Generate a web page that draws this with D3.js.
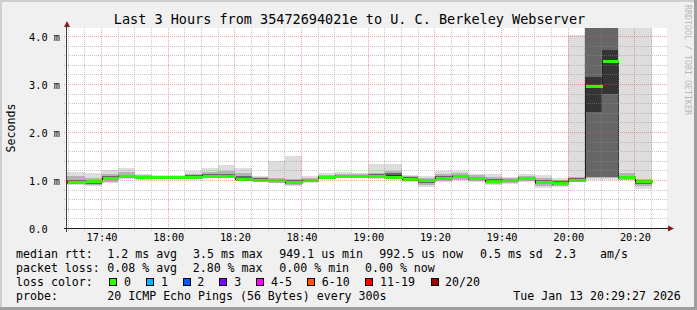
<!DOCTYPE html>
<html><head><meta charset="utf-8">
<script src="https://cdn.jsdelivr.net/npm/d3@7"></script>
<style>
body{margin:0;background:#f0f0f0;}
svg{display:block;}
text{font-family:"DejaVu Sans Mono",monospace;fill:#000;}
</style>
</head><body>
<svg id="chart" width="697" height="310"></svg>
<script>
// ---------- data ----------
const binStarts = ["17:30","17:35","17:40","17:45","17:50","17:55","18:00","18:05","18:10","18:15",
  "18:20","18:25","18:30","18:35","18:40","18:45","18:50","18:55","19:00","19:05",
  "19:10","19:15","19:20","19:25","19:30","19:35","19:40","19:45","19:50","19:55",
  "20:00","20:05","20:10","20:15","20:20"];
// ping round-trip distribution per 5-minute bin (ms)
const pingMin = [0.90,0.88,0.94,1.04,1.01,1.04,1.05,1.06,1.05,1.06,0.98,0.96,0.94,0.89,0.95,1.03,1.05,1.05,1.03,1.03,0.97,0.86,0.97,1.00,0.96,0.90,0.92,0.96,0.85,0.86,0.97,1.02,1.02,1.00,0.83];
const ping10 = [0.92,0.90,0.97,1.06,1.04,1.05,1.06,1.06,1.06,1.07,1.00,0.98,0.95,0.91,0.96,1.04,1.06,1.06,1.05,1.04,0.99,0.90,0.99,1.02,0.98,0.93,0.94,0.98,0.88,0.88,0.99,1.06,1.05,1.02,0.88];
const ping25 = [0.93,0.92,1.00,1.07,1.06,1.06,1.07,1.07,1.07,1.08,1.02,1.00,0.97,0.93,0.98,1.05,1.07,1.07,1.07,1.05,1.01,0.94,1.01,1.05,1.01,0.96,0.96,1.00,0.92,0.91,1.00,1.08,1.07,1.04,0.92];
const ping40 = [0.95,0.95,1.03,1.08,1.07,1.07,1.07,1.08,1.09,1.09,1.03,1.01,0.99,0.96,0.99,1.06,1.08,1.08,1.08,1.06,1.03,0.98,1.04,1.08,1.04,0.98,0.99,1.03,0.95,0.93,1.01,2.42,2.81,1.06,0.96];
const median = [0.96,0.98,1.05,1.09,1.08,1.08,1.08,1.08,1.10,1.10,1.04,1.02,1.00,0.97,1.00,1.07,1.09,1.09,1.09,1.07,1.04,1.00,1.05,1.09,1.05,0.99,1.00,1.05,0.96,0.95,1.02,2.96,3.48,1.07,0.99];
const ping60 = [0.98,0.99,1.07,1.10,1.09,1.09,1.08,1.09,1.11,1.11,1.06,1.03,1.01,0.98,1.01,1.08,1.10,1.10,1.11,1.11,1.05,1.01,1.07,1.10,1.06,1.01,1.01,1.06,0.98,0.96,1.03,3.15,3.71,1.08,1.00];
const ping75 = [1.02,1.01,1.10,1.12,1.10,1.09,1.09,1.11,1.13,1.14,1.10,1.05,1.03,1.00,1.03,1.10,1.11,1.11,1.13,1.15,1.07,1.03,1.10,1.12,1.08,1.04,1.03,1.07,1.01,0.98,1.05,4.30,4.30,1.10,1.01];
const ping90 = [1.09,1.06,1.14,1.17,1.11,1.10,1.10,1.14,1.17,1.20,1.16,1.07,1.06,1.03,1.06,1.12,1.13,1.13,1.16,1.19,1.09,1.06,1.14,1.15,1.11,1.08,1.05,1.10,1.06,1.01,1.08,4.40,4.40,1.16,1.04];
const pingMax = [1.18,1.16,1.21,1.26,1.13,1.12,1.11,1.20,1.25,1.32,1.27,1.09,1.40,1.50,1.09,1.16,1.17,1.16,1.34,1.34,1.11,1.10,1.20,1.20,1.14,1.13,1.08,1.13,1.11,1.05,4.04,4.50,4.50,4.50,4.50];

const yTickValues = [0,1,2,3,4];
const yTickLabels = ["0.0","1.0 m","2.0 m","3.0 m","4.0 m"];
const xTickLabels = ["17:40","18:00","18:20","18:40","19:00","19:20","19:40","20:00","20:20"];

const titleText = "Last 3 Hours from 35472694021e to U. C. Berkeley Webserver";
const rttLegend = ["median rtt:","1.2 ms avg","3.5 ms max","949.1 us min","992.5 us now","0.5 ms sd","2.3","am/s"];
const lossLegend = ["packet loss:","0.08 % avg","2.80 % max","0.00 % min","0.00 % now"];
const lossLabels = ["0","1","2","3","4-5","6-10","11-19","20/20"];
const lossColors = ["#26ff00","#00b8ff","#0059ff","#7e00ff","#ff00ff","#ff5500","#ff0000","#a10000"];
const probeText = "20 ICMP Echo Pings (56 Bytes) every 300s";
const stampText = "Tue Jan 13 20:29:27 2026";

// ---------- layout ----------
const W = 697, H = 310;
const L = 67, R = 667, T = 28, B = 228.5;
const day = "2026-01-13 ";
const parse = d3.timeParse("%Y-%m-%d %H:%M:%S");
const pt = s => parse(day + s + ":00");

const svg = d3.select("#chart");
const x = d3.scaleTime().domain([parse(day+"17:29:38"), parse(day+"20:29:38")]).range([L, R]);
const y = d3.scaleLinear().domain([0, 4.177]).range([B, T]);

// background and 3D border
svg.append("rect").attr("width",W).attr("height",H).attr("fill","#f0f0f0");
svg.append("rect").attr("x",0).attr("y",0).attr("width",W).attr("height",2).attr("fill","#cfcfcf");
svg.append("rect").attr("x",0).attr("y",0).attr("width",2).attr("height",H).attr("fill","#cfcfcf");
svg.append("rect").attr("x",0).attr("y",H-3).attr("width",W).attr("height",3).attr("fill","#9e9e9e");
svg.append("rect").attr("x",W-3).attr("y",0).attr("width",3).attr("height",H).attr("fill","#9e9e9e");

// canvas
svg.append("rect").attr("x",L).attr("y",T).attr("width",R-L).attr("height",B-T).attr("fill","#ffffff");

svg.append("defs").append("clipPath").attr("id","plotclip")
  .append("rect").attr("x",L).attr("y",T).attr("width",R-L).attr("height",B-T+1);

const plot = svg.append("g").attr("clip-path","url(#plotclip)");

const bins = binStarts.map((s,i) => {
  const t0 = pt(s);
  const t1 = new Date(t0.getTime() + 5*60*1000);
  return {i, x0: i === 0 ? L : Math.round(x(t0)), x1: Math.round(x(t1))};
});

// smoke layers (outer to inner)
const layers = [
  {lo: pingMin, hi: pingMax, color: "#dddddd"},
  {lo: ping10, hi: ping90, color: "#b4b4b4"},
  {lo: ping25, hi: ping75, color: "#666666"},
  {lo: ping40, hi: ping60, color: "#343434"}
];
layers.forEach(layer => {
  plot.append("g").selectAll("rect").data(bins).join("rect")
    .attr("x", d => d.x0)
    .attr("width", d => d.x1 - d.x0)
    .attr("y", d => Math.round(y(layer.hi[d.i])))
    .attr("height", d => Math.max(1, Math.round(y(layer.lo[d.i])) - Math.round(y(layer.hi[d.i]))))
    .attr("fill", layer.color)
    .attr("shape-rendering","crispEdges");
});

// grid
const grid = svg.append("g").attr("shape-rendering","crispEdges");
const minorY = d3.range(1, 21).map(k => k*0.2).filter(v => Math.abs(v - Math.round(v)) > 1e-6);
const majorY = yTickValues.slice(1);
const t5 = d3.timeMinute.every(5).range(pt("17:30"), pt("20:29"));
const minorX = t5.filter(t => t.getMinutes() % 20 !== 0);
const majorX = t5.filter(t => t.getMinutes() % 20 === 0);
const gridMinor = "rgba(143,143,143,0.5)";
const gridMajor = "rgba(222,80,80,0.5)";
grid.selectAll(".hmin").data(minorY).join("line")
  .attr("x1", L-3).attr("x2", R).attr("y1", d => Math.floor(y(d))+0.5).attr("y2", d => Math.floor(y(d))+0.5)
  .attr("stroke", gridMinor).attr("stroke-dasharray","1,1");
grid.selectAll(".vmin").data(minorX).join("line")
  .attr("y1", T).attr("y2", B+2.5).attr("x1", d => Math.floor(x(d))+0.5).attr("x2", d => Math.floor(x(d))+0.5)
  .attr("stroke", gridMinor).attr("stroke-dasharray","1,1");
grid.selectAll(".hmaj").data(majorY).join("line")
  .attr("x1", L-3).attr("x2", R).attr("y1", d => Math.floor(y(d))+0.5).attr("y2", d => Math.floor(y(d))+0.5)
  .attr("stroke", gridMajor).attr("stroke-dasharray","1,1");
grid.selectAll(".vmaj").data(majorX).join("line")
  .attr("y1", T).attr("y2", B+3).attr("x1", d => Math.floor(x(d))+0.5).attr("x2", d => Math.floor(x(d))+0.5)
  .attr("stroke", gridMajor).attr("stroke-dasharray","1,1");

// median: dark step line + green loss-coloured bars
const stepPts = bins.map(d => [d.x0, y(median[d.i])]);
stepPts.push([bins[bins.length-1].x1, y(median[median.length-1])]);
plot.append("path")
  .attr("d", d3.line().curve(d3.curveStepAfter)(stepPts.map(p => [p[0]+0.5, Math.round(p[1])+0.5])))
  .attr("fill","none").attr("stroke","#202020").attr("stroke-width",1)
  .attr("shape-rendering","crispEdges");
plot.append("g").selectAll("rect").data(bins).join("rect")
  .attr("x", d => d.x0 + 1)
  .attr("width", d => d.x1 - d.x0)
  .attr("y", d => Math.round(y(median[d.i])) - 1)
  .attr("height", 3)
  .attr("fill", lossColors[0])
  .attr("shape-rendering","crispEdges");

// axes via d3
const yAxis = d3.axisLeft(y).tickValues(yTickValues).tickSize(0)
  .tickFormat((d,i) => yTickLabels[i]);
const gy = svg.append("g").attr("transform", `translate(${L},0)`).call(yAxis);
gy.select(".domain").remove();
gy.selectAll("text").attr("x", 29 - L).attr("text-anchor","start")
  .attr("dy","0.35em").style("font-family","DejaVu Sans Mono").style("font-size","10.3px").attr("fill","#000");

const xAxis = d3.axisBottom(x).tickValues(majorX).tickSize(0)
  .tickFormat((d,i) => xTickLabels[i]);
const gx = svg.append("g").attr("transform", `translate(0,${B})`).call(xAxis);
gx.select(".domain").remove();
gx.selectAll("text").attr("y", 12.6).attr("dy", 0).attr("dx", 0)
  .style("font-family","DejaVu Sans Mono").style("font-size","10.3px").attr("fill","#000");

// axis lines and arrows
svg.append("line").attr("x1", 66.5).attr("x2", 66.5).attr("y1", 27).attr("y2", B+3)
  .attr("stroke","#404040").attr("shape-rendering","crispEdges");
svg.append("line").attr("x1", 64).attr("x2", 669).attr("y1", B).attr("y2", B)
  .attr("stroke","#1f1f1f").attr("shape-rendering","crispEdges");
svg.append("path").attr("d","M64,27 L70,27 L67,21 Z").attr("fill","#7f1f1f");
svg.append("path").attr("d","M668,225.5 L668,231.5 L674,228.5 Z").attr("fill","#7f1f1f");

// title
svg.append("text").attr("x", 349.5).attr("y", 24).attr("text-anchor","middle")
  .style("font-size","13.5px").text(titleText);

// y label
svg.append("text").attr("transform","translate(14.5,128) rotate(-90)").attr("text-anchor","middle")
  .style("font-size","11.6px").text("Seconds");

// watermark
svg.append("text").attr("transform","translate(685,5) rotate(90)").attr("text-anchor","start")
  .style("font-size","8.3px").style("fill","#b8b8b8").text("RRDTOOL / TOBI OETIKER");

// legend
const legFont = "11.6px";
const rttX = [16,107.3,193,279.3,379.3,480,555,600];
const lossX = [16,107.3,192.7,279.3,365];
const leg = svg.append("g").style("font-size", legFont);
leg.selectAll(".r").data(rttLegend).join("text").attr("x",(d,i)=>rttX[i]).attr("y",258.3).text(d=>d);
leg.selectAll(".p").data(lossLegend).join("text").attr("x",(d,i)=>lossX[i]).attr("y",272.3).text(d=>d);
leg.append("text").attr("x",16).attr("y",286).text("loss color:");
const boxX = [108.7,145.7,182.7,219.3,256,307.3,365,430.7];
const labX = [124,161,197.3,234.3,271,321.7,380,445];
leg.selectAll(".lb").data(lossColors).join("rect")
  .attr("x",(d,i)=>Math.round(boxX[i])+0.5).attr("y",278.5).attr("width",7).attr("height",7)
  .attr("fill",d=>d).attr("stroke","#000").attr("stroke-width",1).attr("shape-rendering","crispEdges");
leg.selectAll(".ll").data(lossLabels).join("text").attr("x",(d,i)=>labX[i]).attr("y",286).text(d=>d);
leg.append("text").attr("x",16).attr("y",300).text("probe:");
leg.append("text").attr("x",107.3).attr("y",300).text(probeText);
leg.append("text").attr("x",513.3).attr("y",300).text(stampText);
</script>
</body></html>
